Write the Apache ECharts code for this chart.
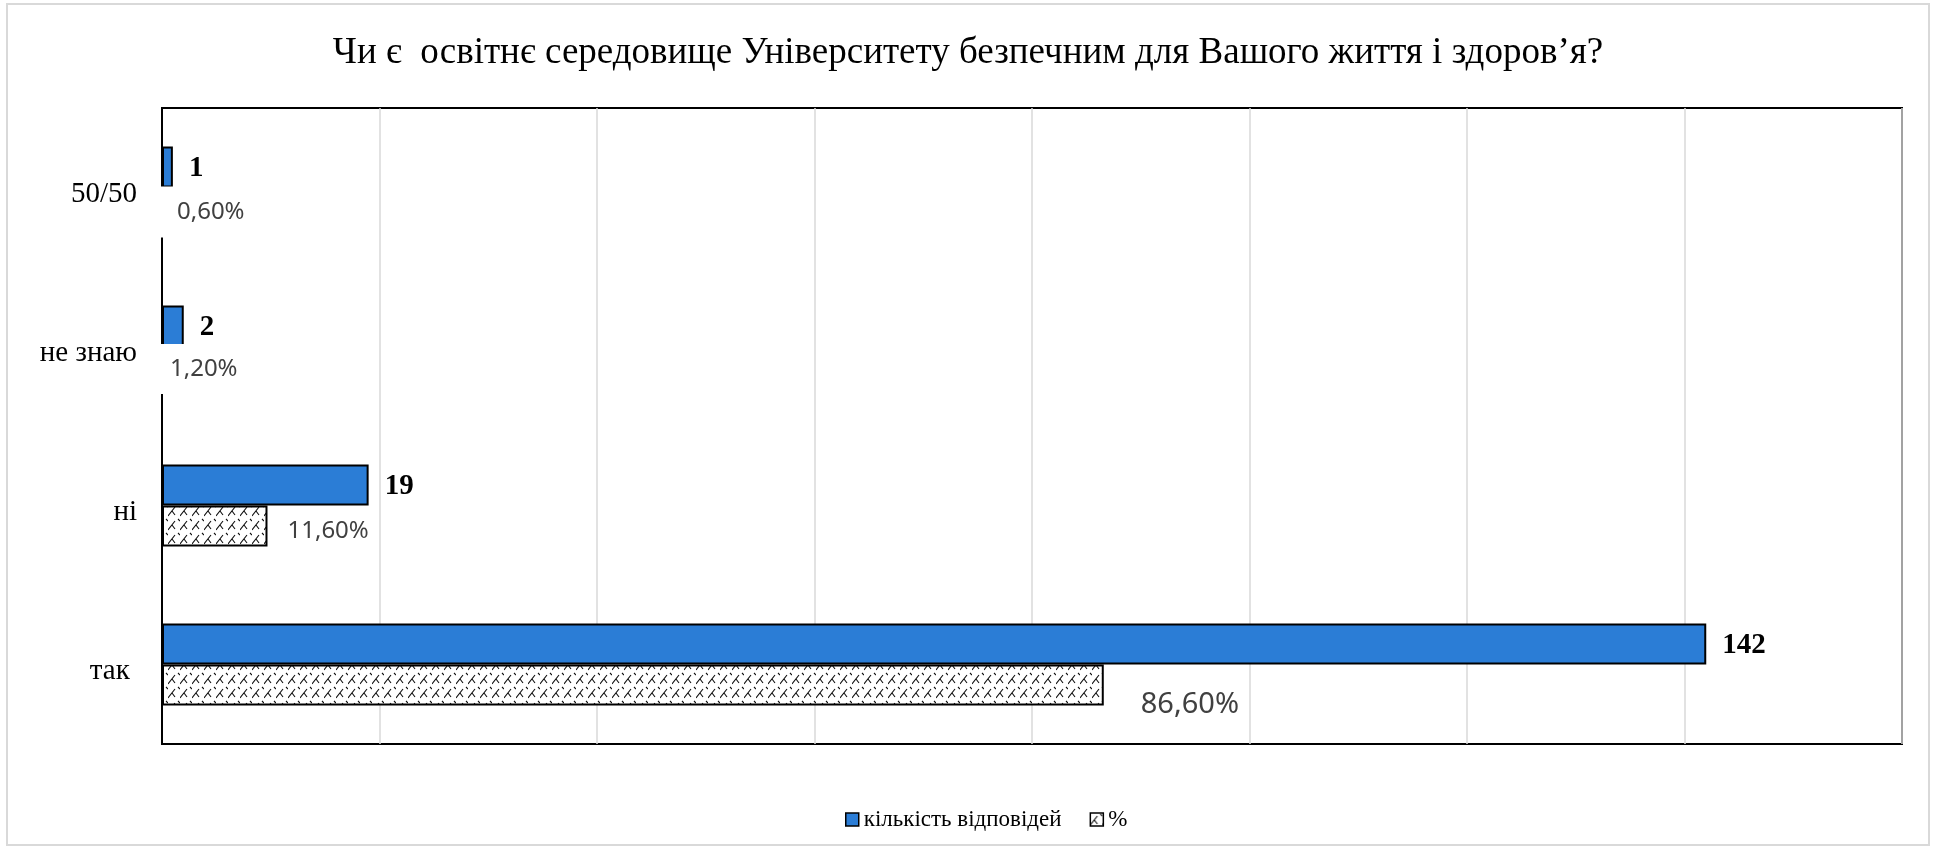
<!DOCTYPE html>
<html>
<head>
<meta charset="utf-8">
<title>Безпека освітнього середовища</title>
<script src="https://cdn.jsdelivr.net/npm/echarts@6/dist/echarts.min.js"></script>
<style>
  html, body { margin: 0; padding: 0; background: #fff; }
  #chart { width: 1936px; height: 851px; }
</style>
</head>
<body>
<div id="chart"></div>
<script>
  // дані з діаграми
  var categories = ['50/50', 'не знаю', 'ні', 'так '];
  var counts = [1, 2, 19, 142];
  var pctBars = [0.6, 1.2, 9.7, 86.6];
  var pctLabels = ['0,60%', '1,20%', '11,60%', '86,60%'];
  var seriesNames = ['кількість відповідей', '%'];
  var axisMax = 160;
  var axisStep = 20;

  var serif = '"Liberation Serif", "Times New Roman", serif';
  var blue = '#2b7dd6';

  // штрихування як у Excel
  function makePattern() {
    var c = document.createElement('canvas');
    c.width = 12;
    c.height = 14;
    var ctx = c.getContext('2d');
    ctx.fillStyle = '#fff';
    ctx.fillRect(0, 0, 12, 14);
    ctx.strokeStyle = '#111';
    ctx.lineWidth = 1.1;
    ctx.beginPath();
    ctx.moveTo(0, 12);
    ctx.lineTo(7, 3);
    ctx.moveTo(4, 7);
    ctx.lineTo(7, 11);
    ctx.moveTo(10, 1);
    ctx.lineTo(12, 3);
    ctx.stroke();
    return c;
  }
  var hatch = { image: makePattern(), repeat: 'repeat' };

  // підписи для % — окремі налаштування для маленьких стовпців
  var pctLabelStyle = [
    { position: 'insideLeft', distance: 0, offset: [-2, 4], padding: [17, 6, 10, 17], backgroundColor: '#fff' },
    { position: 'insideLeft', distance: 0, offset: [-2, 2], padding: [14, 6, 12, 10], backgroundColor: '#fff' },
    { position: 'right', distance: 20, offset: [0, 5] },
    { position: 'right', distance: 37, offset: [0, 20], fontSize: 29 }
  ];

  var pctData = pctBars.map(function (v, i) {
    return { value: v, label: pctLabelStyle[i] };
  });

  var myChart = echarts.init(document.getElementById('chart'));
  var option = {
    animation: false,
    backgroundColor: '#fff',
    graphic: [{
      type: 'rect',
      shape: { x: 7, y: 4, width: 1922, height: 841 },
      style: { fill: 'none', stroke: '#d9d9d9', lineWidth: 2 },
      silent: true
    }],
    title: {
      text: 'Чи є  освітнє середовище Університету безпечним для Вашого життя і здоров’я?',
      left: 'center',
      top: 30,
      textStyle: {
        fontFamily: serif,
        fontSize: 37,
        fontWeight: 'normal',
        color: '#000'
      }
    },
    legend: {
      bottom: 15,
      left: 840,
      icon: 'rect',
      itemWidth: 13,
      itemHeight: 13,
      itemGap: 28,
      textStyle: { fontFamily: serif, fontSize: 23, color: '#000' },
      itemStyle: { borderColor: '#000', borderWidth: 1.5 },
      data: seriesNames
    },
    grid: {
      left: 162,
      right: 34,
      top: 108,
      bottom: 107,
      show: true,
      borderColor: '#000',
      borderWidth: 2,
      containLabel: false
    },
    xAxis: {
      type: 'value',
      min: 0,
      max: axisMax,
      interval: axisStep,
      axisLabel: { show: false },
      axisLine: { show: false },
      axisTick: { show: false },
      splitLine: { lineStyle: { color: '#d9d9d9', width: 1.5 } }
    },
    yAxis: {
      type: 'category',
      inverse: true,
      data: categories,
      axisTick: { show: false },
      axisLine: { lineStyle: { color: '#000', width: 2 } },
      axisLabel: {
        margin: 25,
        formatter: '{c|{value}}',
        rich: {
          c: {
            padding: [14, 0, 0, 0],
            fontFamily: serif,
            fontSize: 29,
            color: '#000'
          }
        }
      }
    },
    series: [{
      name: seriesNames[0],
      type: 'bar',
      data: counts,
      barWidth: 41,
      barGap: '0%',
      itemStyle: { color: blue, borderColor: '#000', borderWidth: 2 },
      label: {
        show: true,
        position: 'right',
        distance: 16,
        offset: [0, 2],
        fontFamily: serif,
        fontWeight: 'bold',
        fontSize: 29,
        color: '#000'
      },
      z: 3
    }, {
      name: seriesNames[1],
      type: 'bar',
      data: pctData,
      barWidth: 41,
      barGap: '0%',
      itemStyle: { color: hatch, borderColor: '#000', borderWidth: 2 },
      label: {
        show: true,
        fontFamily: '"Noto Sans", "DejaVu Sans", sans-serif',
        fontSize: 24,
        color: '#404040',
        formatter: function (p) { return pctLabels[p.dataIndex]; }
      },
      z: 4
    }]
  };
  myChart.setOption(option);
</script>
</body>
</html>
